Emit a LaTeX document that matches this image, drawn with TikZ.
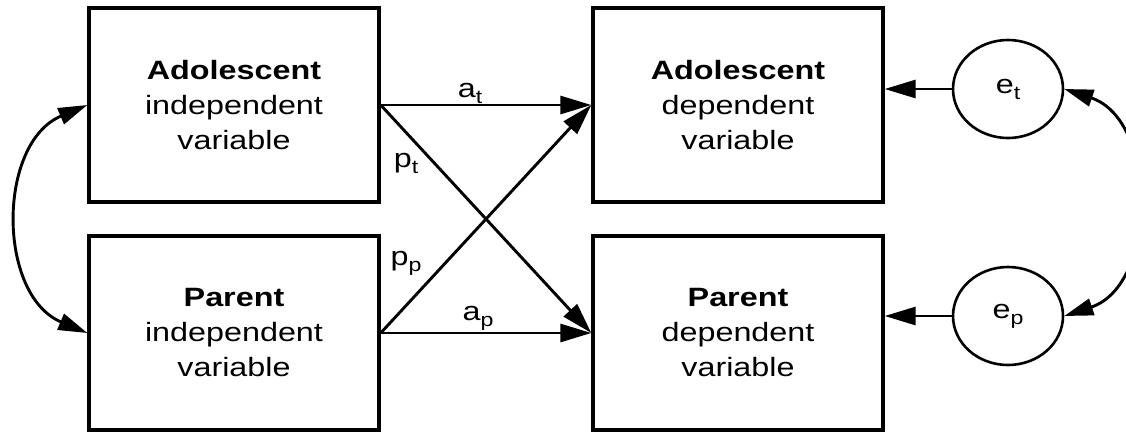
\documentclass[tikz,border=0pt]{standalone}
\usepackage{fontspec}
\setmainfont{Liberation Sans}[FakeStretch=1.22]
\usetikzlibrary{arrows.meta,shapes.geometric}
% lowered, smaller subscript letter
\newcommand{\lowsub}[1]{\raisebox{-6pt}{\fontsize{19}{19}\selectfont #1}}

\begin{document}
\begin{tikzpicture}[x=1pt,y=-1pt,
  varbox/.style={draw,line width=3.4pt,minimum width=290pt,minimum height=194pt,
    align=center,inner sep=0pt,font=\fontsize{26.5}{35}\selectfont},
  errnode/.style={draw,ellipse,line width=2.6pt,minimum width=110pt,
    minimum height=98pt,inner sep=0pt,font=\fontsize{26.5}{30}\selectfont},
  coefline/.style={line width=2.9pt,-{Triangle[length=31pt,width=18pt]}},
  covline/.style={line width=2.9pt,
    {Triangle[length=29pt,width=17pt]}-{Triangle[length=29pt,width=17pt]}},
  lbl/.style={inner sep=0pt,font=\fontsize{26.5}{30}\selectfont}
]
\useasboundingbox (0,0) rectangle (1126,432);

% variable boxes
\node[varbox] (xa) at (234,105) {\textbf{Adolescent}\\independent\\variable};
\node[varbox] (xp) at (234,333) {\textbf{Parent}\\independent\\variable};
\node[varbox] (ya) at (738,105) {\textbf{Adolescent}\\dependent\\variable};
\node[varbox] (yp) at (738,333) {\textbf{Parent}\\dependent\\variable};

% residual terms
\node[errnode] (et) at (1008,89) {e\lowsub{t}};
\node[errnode] (ep) at (1008,316) {e\lowsub{p}};

% regression paths
\draw[coefline] (xa.east) -- (ya.west);
\draw[coefline] (xa.east) -- (yp.west);
\draw[coefline] (xp.east) -- (ya.west);
\draw[coefline] (xp.east) -- (yp.west);
\draw[coefline] (et.west) -- (et.west -| ya.east);
\draw[coefline] (ep.west) -- (ep.west -| yp.east);

% path labels
\node[lbl] (lat) at (470,93) {a\lowsub{t}};
\node[lbl] (lpt) at (406,163) {p\lowsub{t}};
\node[lbl] (lpp) at (406,263) {p\lowsub{p}};
\node[lbl] (lap) at (478,318) {a\lowsub{p}};

% covariances
\draw[covline] (xa.west) .. controls (-3,143) and (-3,295) .. (xp.west);
\draw[covline] (et.east) .. controls (1158,120) and (1158,285) .. (ep.east);
\end{tikzpicture}
\end{document}
